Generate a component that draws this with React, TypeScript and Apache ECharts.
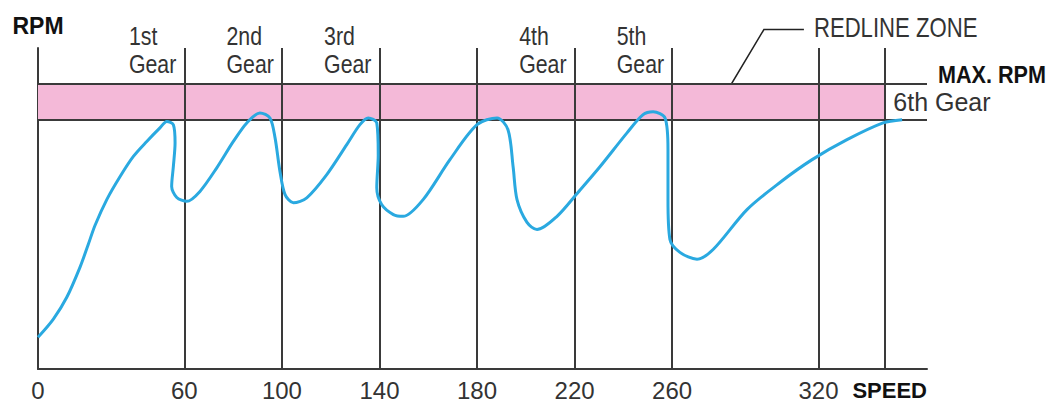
import { useEffect, useRef } from "react";
import * as echarts from "echarts";

// ---- data ----
const speedTicks = [0, 60, 100, 140, 180, 220, 260, 320];
const gridLineSpeeds = [60, 100, 140, 180, 220, 260, 320, 347];
const gearNames = ["1st", "2nd", "3rd", "4th", "5th"];
const gearLabelSpeeds = [60, 100, 140, 220, 260];
const topGearName = "6th Gear";
const topGearSpeed = 347;
const redlineStartRpm = 7000;
const maxRpm = 8000;
const rpmAxisMax = 9000;
const speedAxisMax = 364.5;
const redlineMarker = [280, 7500];

const curveSpeed = [
  0, 6.3, 11.8, 17.2, 20.6, 23.4, 28.2, 33.6, 39.1, 44.6, 50.0, 52.8, 55.5, 56.2, 55.5, 54.8, 56.9, 61.0,
  66.4, 73.3, 80.1, 85.6, 91.0, 95.1, 97.2, 99.2, 101.3, 104.7,
  110.2, 118.4, 126.6, 132.0, 135.4, 138.9, 139.5, 138.9, 140.9, 145.7, 149.7,
  157.9, 168.9, 180.0, 188.2, 192.7, 194.8, 196.4, 200.5, 204.6,
  212.8, 221.4, 230.4, 241.5, 248.1, 252.2, 257.1, 258.3, 258.3, 259.1, 263.2, 270.2,
  276.8, 290.7, 304.2, 317.4, 331.7, 346.5, 354.3,
];
const curveRpm = [
  890, 1400, 2010, 2850, 3490, 4030, 4750, 5390, 5960, 6380, 6760, 6940, 6850, 6340, 5680, 5120, 4810, 4700,
  4980, 5640, 6380, 6900, 7180, 7040, 6480, 5540, 4890, 4660,
  4800, 5450, 6290, 6850, 7040, 6900, 6010, 5080, 4610, 4330, 4280,
  4750, 5870, 6850, 7040, 6710, 5670, 4750, 4110, 3910,
  4280, 4950, 5670, 6620, 7130, 7210, 7040, 6150, 4750, 3630, 3270, 3080,
  3350, 4470, 5230, 5870, 6430, 6900, 6990,
];

const FONT = '"Liberation Sans", Arial, sans-serif';
const LINE = "#3a3a3a";
const TEXT = "#333333";
const BOLD = "#111111";
const PINK = "#f4b9d8";
const BLUE = "#2aa9e0";
const NARROW = 0.82;

export default function App() {
  const ref = useRef<HTMLDivElement>(null);

  useEffect(() => {
    const chart = echarts.init(ref.current!, null, { renderer: "svg" });
    chart.setOption({
      animation: false,
      grid: { left: 38, right: 132, top: 48, bottom: 32 },
      xAxis: {
        type: "value",
        min: 0,
        max: speedAxisMax,
        axisLine: { show: true, lineStyle: { color: LINE, width: 2 } },
        axisTick: { show: false },
        splitLine: { show: false },
        axisLabel: {
          customValues: speedTicks,
          fontSize: 24,
          lineHeight: 20,
          color: TEXT,
          fontFamily: FONT,
          margin: 11,
        },
        name: "SPEED",
        nameLocation: "end",
        nameGap: 0,
        nameTextStyle: {
          align: "right",
          verticalAlign: "top",
          lineHeight: 20,
          padding: [11, 0, 0, 0],
          fontSize: 22,
          fontWeight: "bold",
          color: BOLD,
          fontFamily: FONT,
        },
      },
      yAxis: {
        type: "value",
        min: 0,
        max: rpmAxisMax,
        axisLine: { show: true, lineStyle: { color: LINE, width: 2 } },
        axisTick: { show: false },
        axisLabel: { show: false },
        splitLine: { show: false },
        name: "RPM",
        nameLocation: "end",
        nameGap: 22,
        nameTextStyle: {
          align: "center",
          verticalAlign: "middle",
          fontSize: 23,
          fontWeight: "bold",
          color: BOLD,
          fontFamily: FONT,
        },
      },
      series: [
        {
          type: "line",
          data: [],
          silent: true,
          z: 1,
          markArea: {
            silent: true,
            itemStyle: { color: PINK, opacity: 1 },
            emphasis: { disabled: true },
            data: [[{ xAxis: 0, yAxis: redlineStartRpm }, { xAxis: topGearSpeed, yAxis: maxRpm }]],
          },
          markLine: {
            silent: true,
            symbol: "none",
            label: { show: false },
            emphasis: { disabled: true },
            lineStyle: { color: LINE, width: 2, type: "solid" },
            data: [
              ...gridLineSpeeds.map((v) => ({ xAxis: v })),
              { yAxis: redlineStartRpm },
              { yAxis: maxRpm },
            ],
          },
        },
        {
          type: "line",
          z: 5,
          silent: true,
          smooth: 0.3,
          showSymbol: false,
          lineStyle: { color: BLUE, width: 3 },
          data: curveSpeed.map((s, i) => [s, curveRpm[i]]),
        },
      ],
    });

    const px = (s: number, r: number) =>
      chart.convertToPixel({ gridIndex: 0 }, [s, r]) as number[];

    const ctx = document.createElement("canvas").getContext("2d")!;
    ctx.font = `26px ${FONT}`;

    const gearTexts = gearNames.map((g, i) => {
      const [x] = px(gearLabelSpeeds[i], 0);
      const w = Math.max(ctx.measureText(g).width, ctx.measureText("Gear").width) * NARROW;
      return {
        type: "text",
        x: x - 8 - w,
        y: 22,
        scaleX: NARROW,
        silent: true,
        style: {
          text: `${g}\nGear`,
          fill: TEXT,
          fontSize: 26,
          fontFamily: FONT,
          lineHeight: 28,
          align: "left",
          verticalAlign: "top",
        },
      };
    });

    const [topX, redY] = px(topGearSpeed, redlineStartRpm);
    const [endX, maxY] = px(speedAxisMax, maxRpm);
    const dot = px(redlineMarker[0], redlineMarker[1]);
    const elbow = [dot[0] + 43, dot[1] - 72];
    const leaderEnd = [elbow[0] + 40, elbow[1]];

    chart.setOption({
      graphic: [
        ...gearTexts,
        {
          type: "text",
          x: topX + 9,
          y: redY - 17,
          silent: true,
          style: {
            text: topGearName,
            fill: TEXT,
            fontSize: 25,
            fontFamily: FONT,
            align: "left",
            verticalAlign: "middle",
          },
        },
        {
          type: "text",
          x: endX + 11,
          y: maxY - 9,
          scaleX: 0.9,
          silent: true,
          style: {
            text: "MAX. RPM",
            fill: BOLD,
            fontSize: 24,
            fontWeight: "bold",
            fontFamily: FONT,
            align: "left",
            verticalAlign: "middle",
          },
        },
        {
          type: "polyline",
          silent: true,
          shape: { points: [leaderEnd, elbow, dot] },
          style: { stroke: "#222", lineWidth: 1.5, fill: "none" },
        },
        {
          type: "circle",
          silent: true,
          shape: { cx: dot[0], cy: dot[1], r: 5 },
          style: { fill: "#111" },
        },
        {
          type: "text",
          x: leaderEnd[0] + 10,
          y: leaderEnd[1] - 2,
          scaleX: NARROW,
          silent: true,
          style: {
            text: "REDLINE ZONE",
            fill: TEXT,
            fontSize: 27,
            fontFamily: FONT,
            align: "left",
            verticalAlign: "middle",
          },
        },
      ],
    });

    return () => chart.dispose();
  }, []);

  return (
    <div
      ref={ref}
      style={{ position: "fixed", left: 0, top: 0, width: 1059, height: 402, background: "#fff" }}
    />
  );
}
